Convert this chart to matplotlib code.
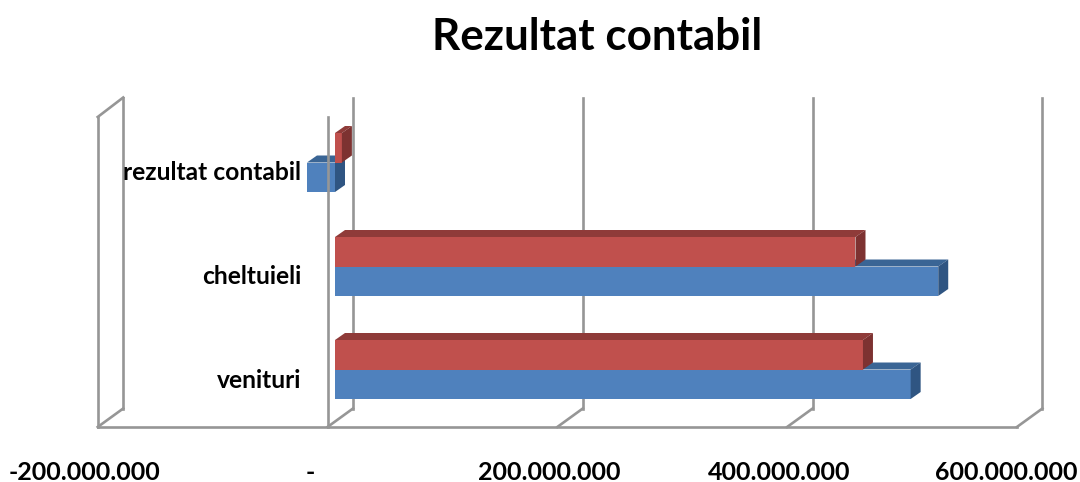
import matplotlib
matplotlib.use("Agg")
import matplotlib.pyplot as plt
from matplotlib.patches import Polygon

# ---- data (millions) ----
title = "Rezultat contabil"
categories = ["venituri", "cheltuieli", "rezultat contabil"]
series_blue = [501, 525, -24.4]
series_red = [459.5, 453, 6]
tick_values = [-200, 0, 200, 400, 600]
tick_labels = ["-200.000.000", "-", "200.000.000", "400.000.000", "600.000.000"]

# ---- layout ----
W, H = 1080, 482
PX = 1.149            # pixels per million
BAR0 = 335            # pixel of value 0 in the bars' plane
DX, DY = 10, 7        # bar depth in pixels
bar_top = {"venituri": 340, "cheltuieli": 237, "rezultat contabil": 133}
BAR_H = 29.5
GRID_C = "#969696"
BLUE, BLUE_TOP, BLUE_SIDE = "#4F81BD", "#3A6595", "#2F5582"
RED, RED_TOP, RED_SIDE = "#C0504D", "#8F3B39", "#7D3231"
FONT = "Lato"

fig = plt.figure(figsize=(W / 100, H / 100), dpi=100, facecolor="white")
ax = fig.add_axes([0, 0, 1, 1])
ax.set_xlim(-BAR0 / PX, (W - BAR0) / PX)
ax.set_ylim(H, 0)
ax.axis("off")

d = DX / PX
front_off = (335 - 327.5) / PX   # bars' plane to front grid plane
back_off = (353 - 335) / PX      # bars' plane to back grid plane
FLOOR_F, FLOOR_B, TOP_F, TOP_B = 427, 408.5, 117, 97.5
lk = dict(color=GRID_C, lw=1.9, solid_capstyle="projecting", solid_joinstyle="miter")

# back grid and floor
for v in tick_values:
    f, b = v - front_off, v + back_off
    ax.plot([b, b], [TOP_B, FLOOR_B], zorder=1, **lk)
    ax.plot([f, b], [FLOOR_F, FLOOR_B], zorder=1, **lk)
left_f = tick_values[0] - front_off
left_b = tick_values[0] + back_off
right_f = tick_values[-1] - front_off
ax.plot([left_f, left_f], [TOP_F, FLOOR_F], zorder=1, **lk)
ax.plot([left_f, left_b], [TOP_F, TOP_B], zorder=1, **lk)
ax.plot([left_f, right_f], [FLOOR_F, FLOOR_F], zorder=1, **lk)


def bar3d(v, top, face, top_c, side_c, z):
    lo, hi = min(v, 0), max(v, 0)
    bot = top + BAR_H
    ax.barh(top + BAR_H / 2, hi - lo, left=lo, height=BAR_H, color=face,
            edgecolor="none", zorder=z)
    ax.add_patch(Polygon([(lo, top), (lo + d, top - DY), (hi + d, top - DY), (hi, top)],
                         closed=True, fc=top_c, ec="none", zorder=z))
    ax.add_patch(Polygon([(hi, top), (hi + d, top - DY), (hi + d, bot - DY), (hi, bot)],
                         closed=True, fc=side_c, ec="none", zorder=z))


for i, cat in enumerate(categories):
    t = bar_top[cat]
    bar3d(series_blue[i], t + BAR_H, BLUE, BLUE_TOP, BLUE_SIDE, 2)
    bar3d(series_red[i], t, RED, RED_TOP, RED_SIDE, 3)

# front wall line at zero, over the bars
ax.plot([-front_off, -front_off], [TOP_F, FLOOR_F], zorder=4, **lk)

# texts
ax.text((597 - BAR0) / PX, 36.5, title, ha="center", va="center", fontsize=31.7,
        fontweight="bold", family=FONT, color="black")
label_y = {"venituri": 380, "cheltuieli": 276, "rezultat contabil": 172}
for cat in categories:
    ax.text((301 - BAR0) / PX, label_y[cat], cat, ha="right", va="center",
            fontsize=17.7, fontweight="bold", family=FONT, color="black")
tick_px = [84, 310, 549, 779, 1006.5]
for px, lab in zip(tick_px, tick_labels):
    ax.text((px - BAR0) / PX, 472, lab, ha="center", va="center",
            fontsize=18, fontweight="bold", family=FONT, color="black")

fig.savefig("out.png", dpi=100, facecolor="white")
